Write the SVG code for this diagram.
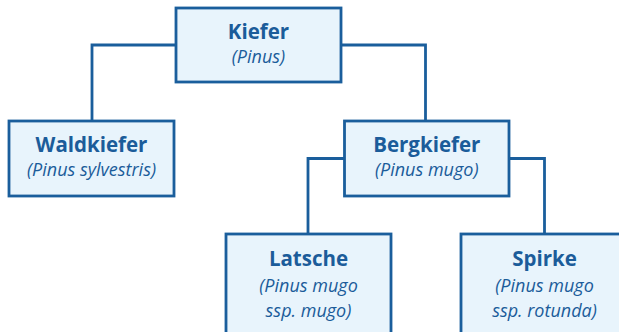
<svg xmlns="http://www.w3.org/2000/svg" width="619" height="332" viewBox="0 0 619 332">
<style>
.box{fill:#e8f4fc;stroke:#1a5e9c;stroke-width:2.8}
.con{fill:none;stroke:#1a5e9c;stroke-width:2.8}
.t{font-family:"Open Sans","Noto Sans",sans-serif;font-weight:700;font-size:20.5px;fill:#1b5c9a;text-anchor:middle}
.s{font-family:"Open Sans","Noto Sans",sans-serif;font-style:italic;font-size:18px;fill:#1b5c9a;text-anchor:middle}
</style>
<rect width="619" height="332" fill="#ffffff"/>
<g id="connectors">
<polyline class="con" points="176,45 92,45 92,121"/>
<polyline class="con" points="341,45 425.5,45 425.5,121"/>
<polyline class="con" points="344.5,158.5 308,158.5 308,234"/>
<polyline class="con" points="509,158.5 544.5,158.5 544.5,234"/>
</g>
<g id="kiefer">
<rect class="box" x="176" y="8" width="165" height="74"/>
<text class="t" x="258.5" y="39">Kiefer</text>
<text class="s" x="258.5" y="63">(Pinus)</text>
</g>
<g id="waldkiefer">
<rect class="box" x="9" y="121" width="165" height="75"/>
<text class="t" x="91.5" y="152">Waldkiefer</text>
<text class="s" x="91.5" y="176">(Pinus sylvestris)</text>
</g>
<g id="bergkiefer">
<rect class="box" x="344.5" y="121" width="164.5" height="75"/>
<text class="t" x="426.75" y="152">Bergkiefer</text>
<text class="s" x="426.75" y="176">(Pinus mugo)</text>
</g>
<g id="latsche">
<rect class="box" x="226" y="234" width="165" height="110"/>
<text class="t" x="308.5" y="266">Latsche</text>
<text class="s" x="308.5" y="292">(Pinus mugo</text>
<text class="s" x="308.5" y="317">ssp. mugo)</text>
</g>
<g id="spirke">
<rect class="box" x="461" y="234" width="167" height="110"/>
<text class="t" x="544.5" y="266">Spirke</text>
<text class="s" x="544.5" y="292">(Pinus mugo</text>
<text class="s" x="544.5" y="317">ssp. rotunda)</text>
</g>
</svg>
